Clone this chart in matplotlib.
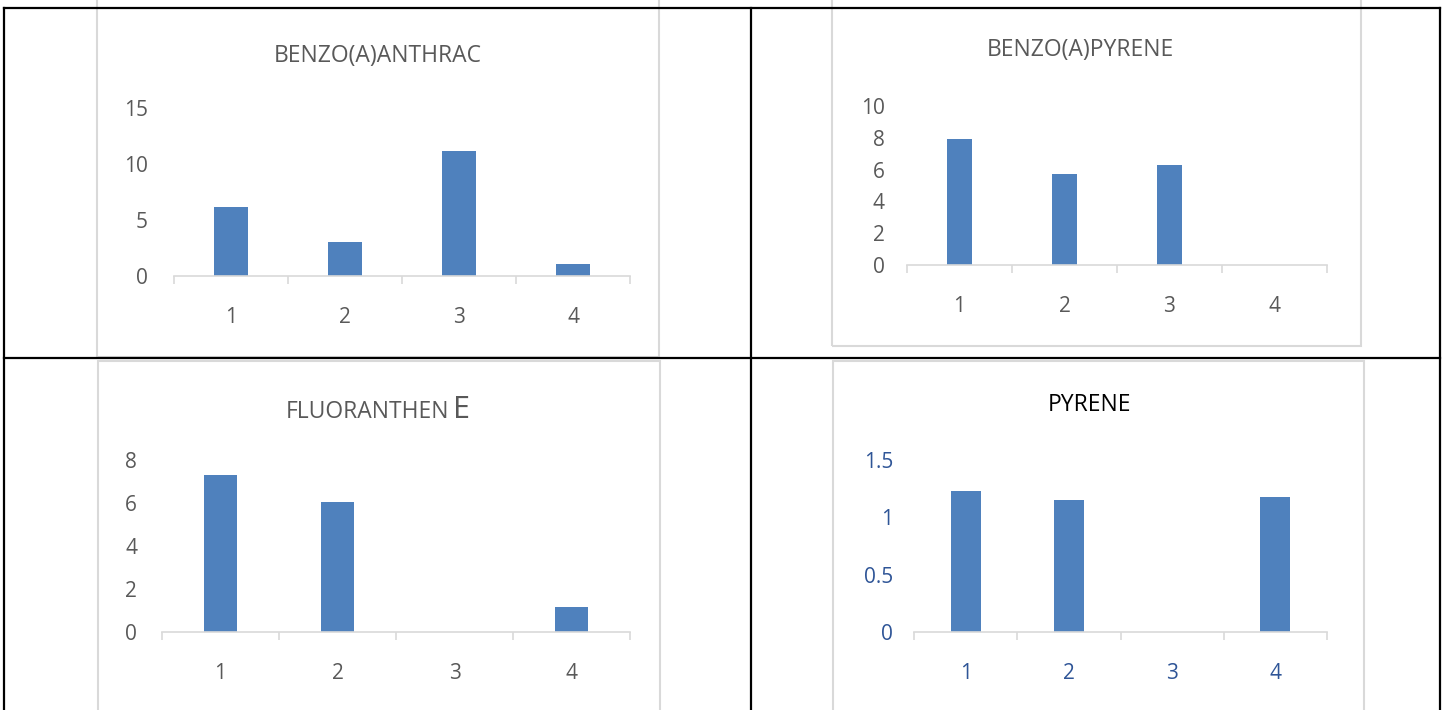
import matplotlib.pyplot as plt
from matplotlib.lines import Line2D
from matplotlib.patches import Rectangle

plt.rcParams['font.family'] = ['Open Sans', 'DejaVu Sans']

# data
categories = [1, 2, 3, 4]
benzo_anthrac = [6.2, 3.0, 11.2, 1.1]
benzo_pyrene = [7.9, 5.7, 6.3, 0]
fluoranthene = [7.3, 6.05, 0, 1.15]
pyrene = [1.23, 1.15, 0, 1.18]

W, H = 1444, 710
BAR = '#4F81BD'
GREY_TXT = '#595959'
FRAME = '#D9D9D9'

fig = plt.figure(figsize=(W / 100, H / 100), dpi=100)
fig.patch.set_facecolor('white')


def px_axes(x0, x1, y0, ytop):
    # x0/x1: pixel x of category 0.5 / 4.5, y0: pixel y of zero, ytop: pixel y of ymax
    return fig.add_axes([x0 / W, 1 - y0 / H, (x1 - x0) / W, (y0 - ytop) / H])


def frame(x0, x1, y0, y1):
    r = Rectangle((x0 / W, 1 - y1 / H), (x1 - x0) / W, (y1 - y0) / H,
                  transform=fig.transFigure, fill=False, ec=FRAME, lw=1.5)
    fig.patches.append(r)


def bar_chart(ax, vals, ymax, step, width, tick_col, pad_y, pad_x):
    ax.bar(categories, vals, width=width, color=BAR, zorder=2)
    ax.set_xlim(0.5, 4.5)
    ax.set_ylim(0, ymax)
    for s in ['top', 'right', 'left']:
        ax.spines[s].set_visible(False)
    ax.spines['bottom'].set_color(FRAME)
    ax.spines['bottom'].set_linewidth(1.2)
    ax.set_xticks(categories)
    ax.set_xticklabels([str(c) for c in categories])
    ax.set_xticks([0.5, 1.5, 2.5, 3.5, 4.5], minor=True)
    ax.tick_params(axis='x', which='major', length=0, pad=pad_x,
                   labelsize=15, labelcolor=tick_col)
    ax.tick_params(axis='x', which='minor', length=6, color=FRAME, width=1.2)
    yt = [i * step for i in range(int(round(ymax / step)) + 1)]
    ax.set_yticks(yt)
    ax.set_yticklabels([f'{v:g}' for v in yt])
    ax.tick_params(axis='y', length=0, pad=pad_y, labelsize=15, labelcolor=tick_col)
    ax.set_facecolor('none')


# chart frames (light grey chart-area borders)
frame(97, 659, -10, 357)
frame(832, 1361, -10, 346)
frame(98, 660, 361, 720)
frame(833, 1364, 361, 720)

# top-left
ax1 = px_axes(174, 630, 276, 108)
bar_chart(ax1, benzo_anthrac, 15, 5, 0.29, GREY_TXT, 19, 22)
fig.text(378 / W, 1 - 56 / H, 'BENZO(A)ANTHRAC', ha='center', va='center',
         fontsize=16.5, color=GREY_TXT)

# top-right
ax2 = px_axes(907, 1327, 265, 106)
bar_chart(ax2, benzo_pyrene, 10, 2, 0.23, GREY_TXT, 16, 22)
fig.text(1080 / W, 1 - 50 / H, 'BENZO(A)PYRENE', ha='center', va='center',
         fontsize=16.5, color=GREY_TXT)

# bottom-left
ax3 = px_axes(162, 630, 632, 460)
bar_chart(ax3, fluoranthene, 8, 2, 0.28, GREY_TXT, 18, 22)
fig.text(449 / W, 1 - 418 / H, 'FLUORANTHEN', ha='right', va='baseline',
         fontsize=16.5, color=GREY_TXT)
fig.text(453 / W, 1 - 418 / H, 'E', ha='left', va='baseline',
         fontsize=22, color=GREY_TXT)

# bottom-right
ax4 = px_axes(914, 1327, 632, 460)
bar_chart(ax4, pyrene, 1.5, 0.5, 0.29, '#2F5597', 15, 22)
fig.text(1090 / W, 1 - 405 / H, 'PYRENE', ha='center', va='center',
         fontsize=16.5, color='#000000')

# table grid lines
grid = [((4, 1440), (8, 8)), ((4, 1440), (358, 358)),
        ((4, 4), (8, 712)), ((751, 751), (8, 712)), ((1440, 1440), (8, 712))]
for xs, ys in grid:
    fig.lines.append(Line2D([x / W for x in xs], [1 - y / H for y in ys],
                            transform=fig.transFigure, color='black', lw=1.6))

fig.savefig('out.png', dpi=100, facecolor='white')
